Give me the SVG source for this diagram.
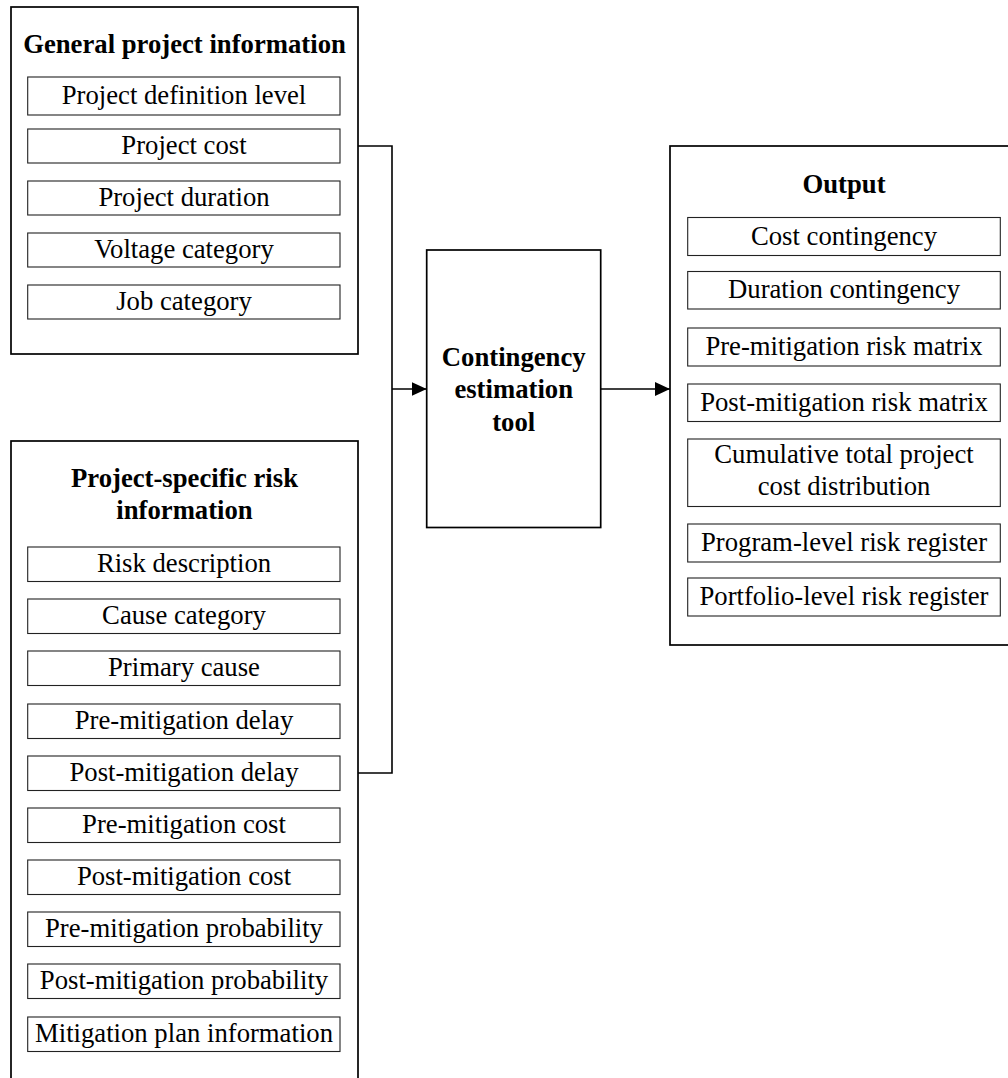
<svg xmlns="http://www.w3.org/2000/svg" width="1008" height="1078" viewBox="0 0 1008 1078">
<defs>
<style>
text{font-family:"Liberation Serif","Times New Roman",serif;font-size:26.7px;fill:#000;text-anchor:middle}
.b{font-weight:bold}
.outer{fill:#fff;stroke:#000;stroke-width:1.7}
.inner{fill:#fff;stroke:#222;stroke-width:1.1}
.conn{fill:none;stroke:#000;stroke-width:1.6}
</style>
<marker id="arr" markerUnits="userSpaceOnUse" markerWidth="16" markerHeight="14" refX="15" refY="7" orient="auto">
<path d="M0,0 L15,7 L0,14 Z" fill="#000"/>
</marker>
</defs>
<rect width="1008" height="1078" fill="#fff"/>

<g id="general-info">
<rect class="outer" x="11" y="7" width="347" height="347"/>
<text class="b" x="184.5" y="53">General project information</text>
<rect class="inner" x="27.7" y="77" width="312.3" height="38"/>
<text x="184" y="104">Project definition level</text>
<rect class="inner" x="27.7" y="129" width="312.3" height="34"/>
<text x="184" y="153.5">Project cost</text>
<rect class="inner" x="27.7" y="181" width="312.3" height="34"/>
<text x="184" y="205.5">Project duration</text>
<rect class="inner" x="27.7" y="233" width="312.3" height="34"/>
<text x="184" y="257.5">Voltage category</text>
<rect class="inner" x="27.7" y="285" width="312.3" height="34"/>
<text x="184" y="309.5">Job category</text>
</g>

<g id="risk-info">
<rect class="outer" x="11" y="441" width="347" height="660"/>
<text class="b" x="184.5" y="487">Project-specific risk</text>
<text class="b" x="184.5" y="519">information</text>
<rect class="inner" x="27.7" y="547" width="312.3" height="34.5"/>
<text x="184" y="571.8">Risk description</text>
<rect class="inner" x="27.7" y="599" width="312.3" height="34.5"/>
<text x="184" y="623.8">Cause category</text>
<rect class="inner" x="27.7" y="651" width="312.3" height="34.5"/>
<text x="184" y="675.8">Primary cause</text>
<rect class="inner" x="27.7" y="704" width="312.3" height="34.5"/>
<text x="184" y="728.8">Pre-mitigation delay</text>
<rect class="inner" x="27.7" y="756" width="312.3" height="34.5"/>
<text x="184" y="780.8">Post-mitigation delay</text>
<rect class="inner" x="27.7" y="808" width="312.3" height="34.5"/>
<text x="184" y="832.8">Pre-mitigation cost</text>
<rect class="inner" x="27.7" y="860" width="312.3" height="34.5"/>
<text x="184" y="884.8">Post-mitigation cost</text>
<rect class="inner" x="27.7" y="912" width="312.3" height="34.5"/>
<text x="184" y="936.8">Pre-mitigation probability</text>
<rect class="inner" x="27.7" y="964" width="312.3" height="34.5"/>
<text x="184" y="988.8">Post-mitigation probability</text>
<rect class="inner" x="27.7" y="1017" width="312.3" height="34.5"/>
<text x="184" y="1041.8">Mitigation plan information</text>
</g>

<g id="tool">
<rect class="outer" x="426.7" y="250" width="174" height="277.5"/>
<text class="b" x="513.7" y="365.5">Contingency</text>
<text class="b" x="513.7" y="398">estimation</text>
<text class="b" x="513.7" y="430.5">tool</text>
</g>

<g id="output">
<rect class="outer" x="670" y="146" width="348" height="499"/>
<text class="b" x="844" y="193">Output</text>
<rect class="inner" x="687.7" y="217.5" width="312.6" height="38"/>
<text x="844" y="244.5">Cost contingency</text>
<rect class="inner" x="687.7" y="271.5" width="312.6" height="37.5"/>
<text x="844" y="298.3">Duration contingency</text>
<rect class="inner" x="687.7" y="328" width="312.6" height="38"/>
<text x="844" y="355">Pre-mitigation risk matrix</text>
<rect class="inner" x="687.7" y="384" width="312.6" height="37.5"/>
<text x="844" y="410.8">Post-mitigation risk matrix</text>
<rect class="inner" x="687.7" y="439" width="312.6" height="67.5"/>
<text x="844" y="463.3">Cumulative total project</text>
<text x="844" y="495.3">cost distribution</text>
<rect class="inner" x="687.7" y="524" width="312.6" height="38"/>
<text x="844" y="551">Program-level risk register</text>
<rect class="inner" x="687.7" y="578" width="312.6" height="38"/>
<text x="844" y="605">Portfolio-level risk register</text>
</g>

<g id="connectors">
<polyline class="conn" points="358,146 392,146 392,773 358,773"/>
<line class="conn" x1="392" y1="389" x2="426.7" y2="389" marker-end="url(#arr)"/>
<line class="conn" x1="600.7" y1="389" x2="670" y2="389" marker-end="url(#arr)"/>
</g>
</svg>
